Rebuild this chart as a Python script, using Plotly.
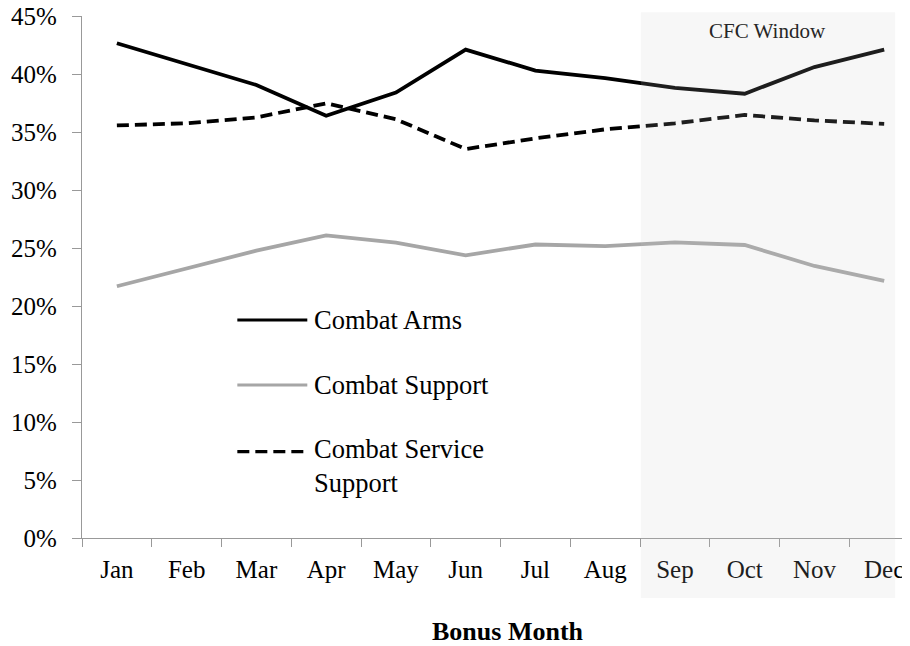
import plotly.graph_objects as go

months = ["Jan", "Feb", "Mar", "Apr", "May", "Jun", "Jul", "Aug", "Sep", "Oct", "Nov", "Dec"]
combat_arms = [42.65, 40.85, 39.05, 36.4, 38.4, 42.1, 40.3, 39.65, 38.8, 38.3, 40.6, 42.1]
combat_support = [21.7, 23.25, 24.77, 26.09, 25.46, 24.37, 25.3, 25.17, 25.49, 25.26, 23.45, 22.16]
combat_service_support = [35.57, 35.75, 36.26, 37.47, 36.1, 33.53, 34.45, 35.23, 35.75, 36.47, 36.0, 35.7]
y_ticks = [0, 5, 10, 15, 20, 25, 30, 35, 40, 45]
y_tick_labels = [f"{v}%" for v in y_ticks]

series = [
    ("Combat Arms", combat_arms, dict(color="#000000", width=3.8)),
    ("Combat Support", combat_support, dict(color="#a6a6a6", width=3.8)),
    ("Combat Service<br>Support", combat_service_support, dict(color="#000000", width=3.8, dash="12px,6px")),
]

FONT = "Liberation Serif"
fig = go.Figure()
for name, vals, line in series:
    fig.add_trace(go.Scatter(x=months, y=vals, mode="lines", name=name.replace("<br>", " "),
                             line=line, showlegend=False))

# manual legend (long line samples as in reference)
legend_y = [0.4176, 0.2931, 0.1653]
text_y = [0.4176, 0.2931, 0.1379]
shapes = []
annotations = []
for (name, vals, line), ly, ty in zip(series, legend_y, text_y):
    shapes.append(dict(type="line", xref="paper", yref="paper", x0=0.1876, x1=0.2721, y0=ly, y1=ly,
                       line=dict(color=line["color"], width=3.2, dash=line.get("dash", "solid"))))
    annotations.append(dict(text=name, xref="paper", yref="paper", x=0.2775, y=ty,
                            xanchor="left", yanchor="middle", align="left", showarrow=False,
                            font=dict(family=FONT, size=26.5, color="#000000")))

# CFC window shading overlay
shapes.append(dict(type="rect", xref="paper", yref="paper", x0=0.675, x1=0.982, y0=-0.115, y1=1.007,
                   fillcolor="rgba(200,200,200,0.15)", line=dict(width=0), layer="above"))
annotations.append(dict(text="CFC Window", xref="paper", yref="paper", x=0.828, y=0.9713,
                        xanchor="center", yanchor="middle", showarrow=False,
                        font=dict(family=FONT, size=21, color="#262626")))
annotations.append(dict(text="<b>Bonus Month</b>", xref="paper", yref="paper", x=0.5145, y=-0.18,
                        xanchor="center", yanchor="middle", showarrow=False,
                        font=dict(family=FONT, size=26, color="#000000")))

# page body has an 8px margin, so the figure is sized/offset to compensate
fig.update_layout(
    width=910, height=638,
    margin=dict(l=74, r=8, t=8, b=108),
    paper_bgcolor="white", plot_bgcolor="white",
    font=dict(family=FONT, size=25, color="#000000"),
    shapes=shapes, annotations=annotations,
    showlegend=False,
)
fig.update_xaxes(
    type="category", range=[-0.5, 11.37], tickson="boundaries", automargin=False,
    ticks="outside", ticklen=8, tickcolor="#999999", tickwidth=1.3,
    showline=True, linecolor="#999999", linewidth=1.3, showgrid=False, zeroline=False,
    tickfont=dict(family=FONT, size=25, color="#000000"), ticklabelstandoff=9,
    ticklabeloverflow="allow",
)
fig.update_yaxes(
    range=[0, 45], tickvals=y_ticks, ticktext=y_tick_labels, automargin=False,
    ticks="outside", ticklen=9, tickcolor="#999999", tickwidth=1.3,
    showline=True, linecolor="#999999", linewidth=1.3, showgrid=False, zeroline=False,
    tickfont=dict(family=FONT, size=25, color="#000000"), ticklabelstandoff=10,
    ticklabeloverflow="allow",
)
fig.write_html("out.html")
